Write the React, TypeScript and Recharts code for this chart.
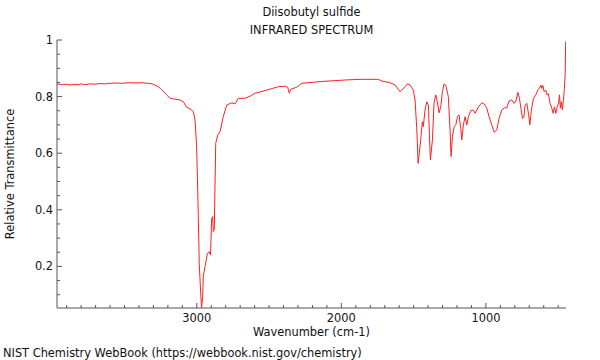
import { LineChart, Line, XAxis, YAxis } from "recharts";

const title = "Diisobutyl sulfide";
const subtitle = "INFRARED SPECTRUM";
const xLabel = "Wavenumber (cm-1)";
const yLabel = "Relative Transmittance";
const footer = "NIST Chemistry WebBook (https://webbook.nist.gov/chemistry)";

// wavenumber (cm-1) and relative transmittance
const wavenumbers = [
  3967, 3930, 3900, 3877, 3850, 3820, 3800, 3774, 3740, 3700, 3670, 3630, 3600,
  3566, 3520, 3462, 3420, 3380, 3358, 3330, 3310, 3290, 3268, 3250, 3234, 3206,
  3185, 3151, 3116, 3093, 3070, 3047, 3024, 3012, 3001, 2990, 2983, 2973, 2967,
  2959, 2955, 2943, 2927, 2914, 2905, 2897, 2890, 2886, 2879, 2869, 2855, 2839,
  2817, 2793, 2758, 2736, 2713, 2666, 2632, 2597, 2516, 2436, 2390, 2371, 2360,
  2350, 2309, 2274, 2147, 1963, 1871, 1744, 1720, 1663, 1628, 1594, 1559, 1543,
  1525, 1502, 1490, 1478, 1469, 1451, 1440, 1433, 1421, 1409, 1398, 1391, 1384,
  1370, 1359, 1347, 1336, 1324, 1312, 1301, 1289, 1276, 1260, 1248, 1241, 1232,
  1220, 1208, 1197, 1186, 1174, 1167, 1156, 1144, 1132, 1121, 1105, 1087, 1075,
  1052, 1028, 1010, 994, 978, 959, 943, 925, 909, 890, 872, 856, 840, 821, 805,
  793, 779, 768, 758, 747, 737, 729, 717, 706, 696, 687, 671, 655, 641, 630, 620,
  613, 606, 597, 586, 577, 568, 556, 544, 535, 526, 516, 507, 498, 491, 485, 478,
  471, 464, 457, 452, 448,
];

const transmittance = [
  0.845, 0.842, 0.844, 0.841, 0.843, 0.842, 0.845, 0.842, 0.845, 0.844, 0.846,
  0.845, 0.847, 0.848, 0.847, 0.849, 0.848, 0.849, 0.848, 0.847, 0.845, 0.841,
  0.835, 0.828, 0.82, 0.805, 0.794, 0.791, 0.788, 0.782, 0.762, 0.757, 0.747,
  0.717, 0.623, 0.39, 0.21, 0.106, 0.055, 0.093, 0.164, 0.199, 0.246, 0.252,
  0.24, 0.37, 0.376, 0.323, 0.33, 0.635, 0.664, 0.676, 0.729, 0.77, 0.778,
  0.774, 0.794, 0.794, 0.801, 0.812, 0.823, 0.835, 0.837, 0.833, 0.812, 0.826,
  0.833, 0.847, 0.853, 0.859, 0.861, 0.861, 0.855, 0.849, 0.841, 0.817, 0.835,
  0.845, 0.841, 0.823, 0.788, 0.682, 0.564, 0.647, 0.711, 0.694, 0.753, 0.782,
  0.77, 0.67, 0.576, 0.647, 0.776, 0.806, 0.782, 0.743, 0.764, 0.817, 0.845,
  0.837, 0.8, 0.682, 0.588, 0.658, 0.694, 0.7, 0.729, 0.735, 0.688, 0.647, 0.7,
  0.729, 0.7, 0.729, 0.75, 0.753, 0.741, 0.764, 0.778, 0.773, 0.759, 0.729, 0.7,
  0.674, 0.682, 0.723, 0.753, 0.761, 0.759, 0.784, 0.788, 0.776, 0.784, 0.815,
  0.794, 0.759, 0.723, 0.729, 0.77, 0.776, 0.741, 0.7, 0.747, 0.794, 0.806,
  0.823, 0.829, 0.841, 0.829, 0.839, 0.817, 0.823, 0.806, 0.81, 0.776, 0.759,
  0.741, 0.764, 0.741, 0.764, 0.776, 0.806, 0.759, 0.782, 0.753, 0.788, 0.829,
  0.876, 0.995,
];

const xMajor = [3000, 2000, 1000];
const xTicks = [
  3900, 3800, 3700, 3600, 3500, 3400, 3300, 3200, 3100, 3000, 2900, 2800, 2700,
  2600, 2500, 2400, 2300, 2200, 2100, 2000, 1900, 1800, 1700, 1600, 1500, 1400,
  1300, 1200, 1100, 1000, 900, 800, 700, 600, 500,
];
const yMajor = [0.2, 0.4, 0.6, 0.8, 1];
const yTicks = [
  0.1, 0.15, 0.2, 0.25, 0.3, 0.35, 0.4, 0.45, 0.5, 0.55, 0.6, 0.65, 0.7, 0.75,
  0.8, 0.85, 0.9, 0.95, 1,
];

const data = wavenumbers.map((w, i) => ({ w, t: transmittance[i] }));

const FONT = "'DejaVu Sans', sans-serif";
const FS = 11.4;
const AXIS = "#555";

const isMajor = (list: number[], v: number) =>
  list.some((m) => Math.abs(m - v) < 1e-6);

const XTick = (props: any) => {
  const { x, y, payload } = props;
  const major = isMajor(xMajor, payload.value);
  return (
    <g>
      <line x1={x} x2={x} y1={y} y2={y - (major ? 5 : 3)} stroke={AXIS} />
      {major && (
        <text x={x} y={y + 14} textAnchor="middle" fontSize={FS} fill="#111" fontFamily={FONT}>
          {payload.value}
        </text>
      )}
    </g>
  );
};

const YTick = (props: any) => {
  const { x, y, payload } = props;
  const major = isMajor(yMajor, payload.value);
  return (
    <g>
      <line x1={x} x2={x + (major ? 5 : 3)} y1={y} y2={y} stroke={AXIS} />
      {major && (
        <text x={x - 4} y={y + 4} textAnchor="end" fontSize={FS} fill="#111" fontFamily={FONT}>
          {String(payload.value)}
        </text>
      )}
    </g>
  );
};

const textStyle: React.CSSProperties = {
  position: "absolute",
  fontFamily: FONT,
  fontSize: FS,
  color: "#111",
  whiteSpace: "nowrap",
  lineHeight: "14px",
};

export default function App() {
  return (
    <div style={{ position: "absolute", left: 0, top: 0, width: 600, height: 360, background: "#fff" }}>
      <LineChart
        width={600}
        height={360}
        data={data}
        margin={{ top: 40, right: 34, bottom: 22, left: 0 }}
      >
        <XAxis
          dataKey="w"
          type="number"
          reversed
          domain={[446, 3967]}
          allowDataOverflow
          ticks={xTicks}
          interval={0}
          tickSize={0}
          tickMargin={0}
          tick={<XTick />}
          height={30}
          axisLine={{ stroke: AXIS }}
        />
        <XAxis
          xAxisId="top"
          dataKey="w"
          type="number"
          reversed
          orientation="top"
          domain={[446, 3967]}
          allowDataOverflow
          tick={false}
          tickLine={false}
          height={0}
          axisLine={{ stroke: "#a0a0a0" }}
        />
        <YAxis
          type="number"
          domain={[0.053, 1]}
          allowDataOverflow
          ticks={yTicks}
          interval={0}
          tickSize={0}
          tickMargin={0}
          tick={<YTick />}
          width={57}
          axisLine={{ stroke: AXIS }}
        />
        <YAxis
          yAxisId="right"
          orientation="right"
          type="number"
          domain={[0.053, 1]}
          tick={false}
          tickLine={false}
          width={0}
          axisLine={{ stroke: AXIS }}
        />
        <Line
          dataKey="t"
          type="linear"
          stroke="#ff2020"
          strokeWidth={1}
          dot={false}
          activeDot={false}
          isAnimationActive={false}
        />
      </LineChart>
      <div style={{ ...textStyle, left: 57, width: 509, top: 5, textAlign: "center" }}>{title}</div>
      <div style={{ ...textStyle, left: 57, width: 509, top: 23, textAlign: "center" }}>{subtitle}</div>
      <div style={{ ...textStyle, left: 57, width: 509, top: 325, textAlign: "center" }}>{xLabel}</div>
      <div
        style={{
          ...textStyle,
          left: 10,
          top: 174,
          transform: "translate(-50%, -50%) rotate(-90deg)",
        }}
      >
        {yLabel}
      </div>
      <div style={{ ...textStyle, left: 3, top: 346 }}>{footer}</div>
    </div>
  );
}
